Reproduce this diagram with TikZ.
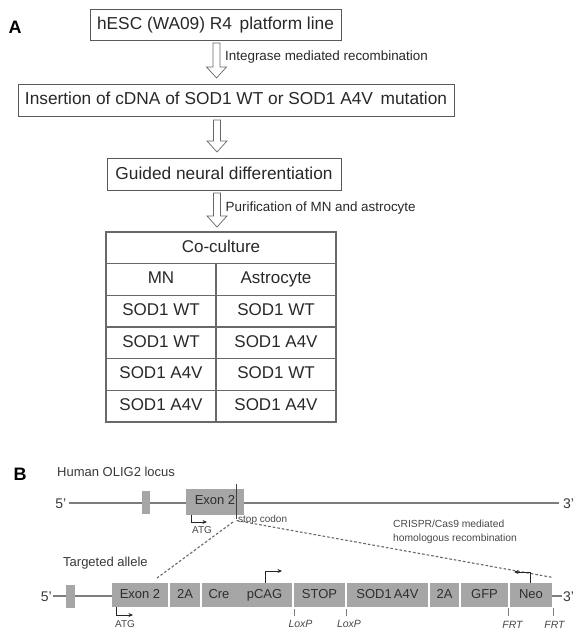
\documentclass[tikz,border=0pt]{standalone}
\usepackage{fontspec}
\setmainfont{Liberation Sans}
\usetikzlibrary{arrows.meta,calc}
\definecolor{boxgray}{RGB}{166,166,166}
\definecolor{linegray}{RGB}{125,125,125}
\definecolor{textdark}{RGB}{40,40,40}
\definecolor{tablegray}{RGB}{105,105,105}
\begin{document}
\begin{tikzpicture}[x=1pt,y=-1pt,
  abox/.style={draw=black!65, line width=0.8pt, fill=white, inner sep=0pt,
    minimum height=31.5pt, text height=12.5pt, text depth=3.5pt,
    font=\fontsize{17.3}{20}\selectfont, text=textdark},
  alabel/.style={anchor=west, inner sep=0pt, font=\fontsize{13.4}{15}\selectfont, text=textdark},
  harrow/.style={draw=black!60, line width=0.7pt, fill=white},
  cell/.style={inner sep=0pt, text height=12.3pt, text depth=3.5pt,
    font=\fontsize{17}{20}\selectfont, text=textdark},
  tline/.style={draw=tablegray, line width=1.1pt},
  gbox/.style={fill=boxgray, draw=none, inner sep=0pt, minimum height=24pt,
    text height=9.3pt, text depth=2.5pt, font=\fontsize{13}{15}\selectfont, text=black!82},
  bline/.style={draw=linegray, line width=1.1pt},
  blabel/.style={inner sep=0pt, font=\fontsize{13}{15}\selectfont, text=black!78},
  slabel/.style={inner sep=0pt, font=\fontsize{10}{12}\selectfont, text=black!72},
  ilabel/.style={inner sep=0pt, font=\fontsize{10.5}{12}\itshape, text=black!72},
  tick/.style={draw=linegray, line width=0.9pt},
  parr/.style={draw=black!85, line width=0.8pt, -{Stealth[length=4.5pt,width=4pt]}},
  dline/.style={draw=black!60, line width=1.1pt, dash pattern=on 2.6pt off 2pt},
  plabel/.style={inner sep=0pt, font=\fontsize{18}{20}\bfseries, text=black}
]
\useasboundingbox (0,0) rectangle (586,639);

% ---------------- Part A ----------------
\node[plabel] (A) at (15,27) {A};
\node[abox, minimum width=251pt] (b1) at (215.5,25) {hESC (WA09) R4\, platform line};
\node[abox, minimum width=436pt] (b2) at (236,100.5) {Insertion of cDNA of SOD1 WT or SOD1 A4V\, mutation};
\node[abox, minimum width=234pt] (b3) at (224,174.5) {Guided neural differentiation};

\newcommand\hollowarrow[3]{%
  \draw[harrow] (#1-3.5,#2) -- (#1+3.5,#2) -- (#1+3.5,#3-11) -- (#1+10,#3-11)
    -- (#1,#3) -- (#1-10,#3-11) -- (#1-3.5,#3-11) -- cycle;}
\hollowarrow{216.5}{43}{78}
\hollowarrow{217}{120}{152}
\hollowarrow{217}{193}{227}

\node[alabel] (l1) at (225,57.5) {Integrase mediated recombination};
\node[alabel] (l3) at (225.5,208) {Purification of MN and astrocyte};

% table
\def\tx{106}\def\tm{216}\def\tX{336}
\draw[tline] (\tx,232) rectangle (\tX,422);
\foreach \k in {1,...,5} {\draw[tline] (\tx,{232+\k*31.67}) -- (\tX,{232+\k*31.67});}
\draw[tline] (\tm,263.67) -- (\tm,422);
\node[cell] (tc) at (221,247.8) {Co-culture};
\node[cell] (th1) at (161,279.5) {MN};
\node[cell] (th2) at (276,279.5) {Astrocyte};
\node[cell] (r1a) at (161,311.2) {SOD1 WT};
\node[cell] (r1b) at (276,311.2) {SOD1 WT};
\node[cell] (r2a) at (161,342.8) {SOD1 WT};
\node[cell] (r2b) at (276,342.8) {SOD1 A4V};
\node[cell] (r3a) at (161,374.5) {SOD1 A4V};
\node[cell] (r3b) at (276,374.5) {SOD1 WT};
\node[cell] (r4a) at (161,406.2) {SOD1 A4V};
\node[cell] (r4b) at (276,406.2) {SOD1 A4V};

% ---------------- Part B ----------------
\node[plabel] (B) at (20,474) {B};
\node[blabel, anchor=west] (hol) at (57,472) {Human OLIG2 locus};

% top locus
\node[blabel, anchor=east, font=\fontsize{14}{16}\selectfont] (t5) at (66.5,504) {5'};
\node[gbox, minimum width=8pt, minimum height=23pt] (tsb) at (146,502) {};
\node[gbox, minimum width=58pt, minimum height=26pt] (tex) at (215,501.5) {Exon 2};
\node[blabel, anchor=west, font=\fontsize{14}{16}\selectfont] (t3) at (563,504) {3'};
\draw[bline] (t5.east |- 0,503) ++(2,0) -- (tsb.west |- 0,503);
\draw[bline] (tsb.east |- 0,503) -- (tex.west |- 0,503);
\draw[bline] (tex.east |- 0,503) -- ($(t3.west |- 0,503)+(-4,0)$);
\coordinate (stopT) at (236,484);
\coordinate (stopB) at (236,519);
\draw[draw=black!75, line width=1pt] (stopT) -- (stopB);
\node[slabel, anchor=west] (stopc) at (238,519.5) {stop codon};
\coordinate (atgT) at (191,514.5);
\draw[parr] (atgT) |- ++(16,7.5);
\node[slabel] (atgtl) at (202,530.5) {ATG};

% dashed lines
\coordinate (dsR) at (236.5,520.5);
\coordinate (deR) at (553,577.5);
\coordinate (dsL) at (233,522);
\coordinate (deL) at (157,578);
\draw[dline] (dsR) -- (deR);
\draw[dline] (dsL) -- (deL);

\node[blabel, anchor=west] (ta) at (63,563) {Targeted allele};
\node[slabel, anchor=west, font=\fontsize{10.3}{12}\selectfont] (cr1) at (393,524) {CRISPR/Cas9 mediated};
\node[slabel, anchor=west, font=\fontsize{10.3}{12}\selectfont] (cr2) at (393,538.5) {homologous recombination};

% bottom allele
\node[blabel, anchor=east, font=\fontsize{14}{16}\selectfont] (b5) at (52,597) {5'};
\node[gbox, minimum width=9pt, minimum height=23pt] (bsb) at (70.5,596) {};
\node[gbox, minimum width=56pt] (bex) at (140,595) {Exon 2};
\node[gbox, minimum width=30pt] (b2a) at (185,595) {2A};
\node[gbox, minimum width=90pt] (bcre) at (247,595) {};
\node[gbox, anchor=center] (crelab) at (219,595) {Cre};
\node[gbox, anchor=center] (pcaglab) at (264.5,595) {pCAG};
\node[gbox, minimum width=51pt] (bstop) at (319.5,595) {STOP};
\node[gbox, minimum width=81pt] (bsod) at (387.5,595) {SOD1\,A4V};
\node[gbox, minimum width=29pt] (b2b) at (444.5,595) {2A};
\node[gbox, minimum width=47pt] (bgfp) at (484.5,595) {GFP};
\node[gbox, minimum width=42pt] (bneo) at (531,595) {Neo};
\node[blabel, anchor=west, font=\fontsize{14}{16}\selectfont] (b3p) at (563,597) {3'};
\draw[bline] (b5.east |- 0,596) ++(1,0) -- (bsb.west |- 0,596);
\draw[bline] (bsb.east |- 0,596) -- (bex.west |- 0,596);
\draw[bline] (bneo.east |- 0,596) -- ($(b3p.west |- 0,596)+(-1,0)$);

% promoter arrows
\draw[parr] (116,607) |- (133,615);
\node[slabel] (atgb) at (125,624) {ATG};
\draw[parr] (265,583) |- (282,571);
\draw[parr] (530,583) |- (514,572);

% LoxP / FRT ticks
\draw[tick] (294,609) -- (294,616);
\node[ilabel] (lox1) at (300.5,624) {LoxP};
\draw[tick] (346,609) -- (346,616);
\node[ilabel] (lox2) at (349,624) {LoxP};
\draw[tick] (508,608) -- (508,616);
\node[ilabel] (frt1) at (512.5,625) {FRT};
\draw[tick] (553,608) -- (553,616);
\node[ilabel] (frt2) at (554.5,625) {FRT};
\end{tikzpicture}
\end{document}
